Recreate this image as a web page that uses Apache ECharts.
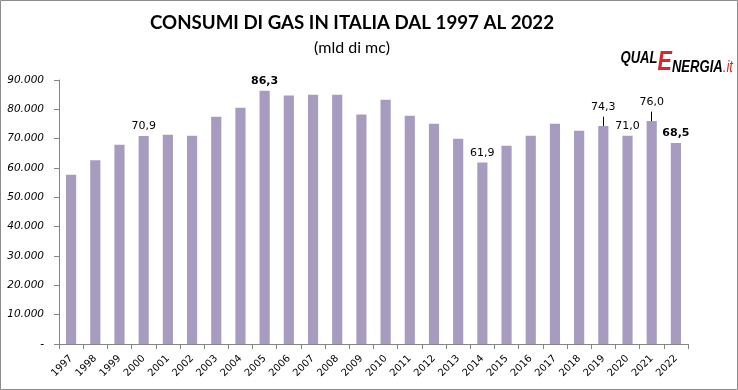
<!DOCTYPE html>
<html><head><meta charset="utf-8">
<script src="https://cdn.jsdelivr.net/npm/echarts@6/dist/echarts.min.js"></script>
<style>html,body{margin:0;padding:0;background:#fff}#c{width:738px;height:390px}</style>
</head><body><div id="c"></div>
<script>
const years = ['1997','1998','1999','2000','2001','2002','2003','2004','2005','2006','2007','2008','2009','2010','2011','2012','2013','2014','2015','2016','2017','2018','2019','2020','2021','2022'];
const consumption = [57.7,62.6,67.9,70.9,71.3,71.0,77.5,80.5,86.3,84.7,85.0,85.0,78.2,83.3,77.8,75.1,70.0,61.9,67.6,71.0,75.1,72.7,74.3,71.0,76.0,68.5];
const labelledYears = ['2000','2005','2014','2019','2020','2021','2022'];
const boldYears = ['2005','2022'];
const leaderYears = ['2019','2021'];
const yTicks = [0,10,20,30,40,50,60,70,80,90];

const fmt = v => v.toFixed(1).replace('.', ',');
const data = years.map((y, i) => {
  const item = { value: consumption[i] };
  if (labelledYears.includes(y)) {
    item.label = {
      show: true,
      formatter: fmt(consumption[i]),
      fontWeight: boldYears.includes(y) ? 'bold' : 'normal',
      distance: leaderYears.includes(y) ? 13 : 4
    };
  }
  return item;
});
const leaderLines = leaderYears.map(y => {
  const v = consumption[years.indexOf(y)];
  return [{ coord: [y, v] }, { coord: [y, v + 3.2] }];
});

const logoFont = { fontFamily: 'Liberation Sans', fontStyle: 'italic', fontWeight: 'bold', lineHeight: 17 };

const chart = echarts.init(document.getElementById('c'));
chart.setOption({
  animation: false,
  graphic: [
    { type: 'rect', shape: { x: 0.5, y: 0.5, width: 737, height: 389 },
      style: { fill: 'none', stroke: '#8c8c8c', lineWidth: 1 }, silent: true },
    { type: 'text', x: 352, y: 13, silent: true,
      style: { text: 'CONSUMI DI GAS IN ITALIA DAL 1997 AL 2022', align: 'center',
        font: 'bold 18.7px Lato', fill: '#000' } },
    { type: 'text', x: 352, y: 40, silent: true,
      style: { text: '(mld di mc)', align: 'center', font: '16px Lato', fill: '#000' } },
    { type: 'text', x: 733, y: 50, scaleX: 0.77, silent: true,
      style: { text: '{q|QUAL}{e|E}{n|NERGIA}{i|.it}', align: 'right', verticalAlign: 'top',
        rich: {
          q: Object.assign({}, logoFont, { fontSize: 17, fill: '#000', verticalAlign: 'top' }),
          e: Object.assign({}, logoFont, { fontSize: 28, lineHeight: 26, fill: '#d8262b', verticalAlign: 'bottom' }),
          n: Object.assign({}, logoFont, { fontSize: 17, fill: '#000', verticalAlign: 'bottom' }),
          i: Object.assign({}, logoFont, { fontSize: 17, fontWeight: 'normal', fill: '#d8262b', verticalAlign: 'bottom' })
        } } }
  ],
  grid: { left: 59, right: 50, top: 80, bottom: 46, containLabel: false },
  xAxis: {
    type: 'category', data: years,
    axisLine: { lineStyle: { color: '#868686' } },
    axisTick: { show: true, interval: 0, length: 5, lineStyle: { color: '#868686' } },
    axisLabel: { interval: 0, rotate: 45, fontFamily: 'DejaVu Sans', fontSize: 10, color: '#000', margin: 13 }
  },
  yAxis: {
    type: 'value', min: 0, max: 90, interval: 10,
    axisLine: { show: true, lineStyle: { color: '#868686' } },
    axisTick: { show: true, length: 5, lineStyle: { color: '#868686' } },
    splitLine: { show: false },
    axisLabel: { fontFamily: 'DejaVu Sans', fontStyle: 'italic', fontSize: 10.5, color: '#000', margin: 15,
      formatter: v => yTicks.includes(v) ? (v === 0 ? '-' : v + '.000') : '' }
  },
  series: [{
    type: 'bar', data: data, barWidth: '42%',
    itemStyle: { color: '#a79bbf' },
    label: { show: false, position: 'top', fontFamily: 'DejaVu Sans', fontSize: 11, color: '#000' },
    markLine: { symbol: 'none', silent: true, label: { show: false },
      lineStyle: { color: '#000', width: 1, type: 'solid' }, data: leaderLines }
  }]
});
</script></body></html>
